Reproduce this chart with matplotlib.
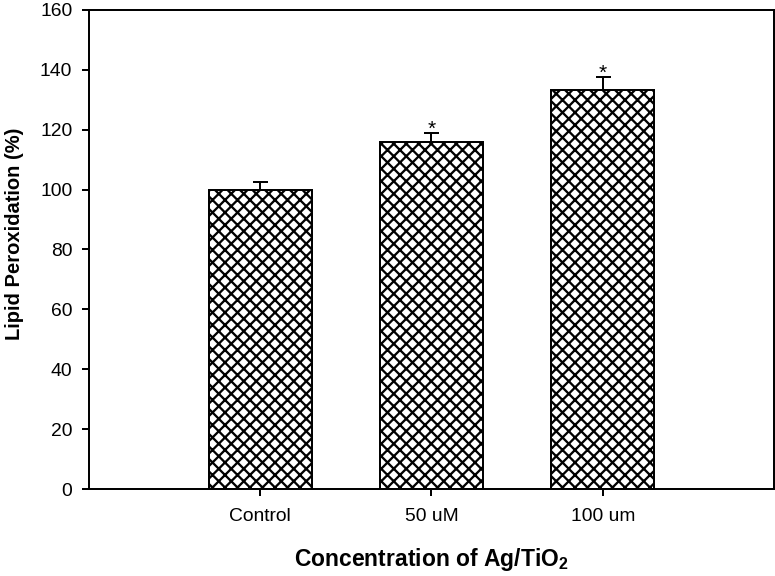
import matplotlib
matplotlib.use("Agg")
import matplotlib.pyplot as plt

# data
groups = ["Control", "50 uM", "100 um"]
lipid = [100.0, 116.0, 133.3]
err_up = [2.5, 3.0, 4.3]
signif = ["", "*", "*"]

DPI = 75
plt.rcParams["font.family"] = ["Liberation Sans", "DejaVu Sans"]
plt.rcParams["hatch.linewidth"] = 2.2

fig = plt.figure(figsize=(776 / DPI, 576 / DPI), dpi=DPI)
ax = fig.add_axes([89 / 776, 1 - 489 / 576, (774 - 89) / 776, (489 - 10) / 576])

x = list(range(len(groups)))
ax.bar(x, lipid, width=0.6, color="white", edgecolor="black",
       linewidth=1.9, hatch="xx", zorder=2)
ax.errorbar(x, lipid, yerr=[[0] * len(x), err_up], fmt="none",
            ecolor="black", elinewidth=1.9, capsize=7.2, capthick=1.9, zorder=3)

for xi, v, e, s in zip(x, lipid, err_up, signif):
    if s:
        ax.text(xi, v + e + 1.3, s, ha="center", va="center", fontsize=20)

ax.set_xlim(-1, 3)
ax.set_ylim(0, 160)
ax.set_yticks(range(0, 161, 20))
ax.set_xticks(x)
ax.set_xticklabels(groups)

for sp in ax.spines.values():
    sp.set_linewidth(1.9)

ax.tick_params(axis="y", direction="out", length=7, width=1.9, pad=9, labelsize=18.5)
ax.tick_params(axis="x", direction="out", length=6.5, width=1.9, pad=12, labelsize=18.5)

ax.set_xlabel("Concentration of Ag/TiO$_\\mathregular{2}$", fontsize=22,
              fontweight="bold", labelpad=20)
ax.set_ylabel("Lipid Peroxidation (%)", fontsize=19.3, fontweight="bold")
ax.yaxis.set_label_coords(-0.095, 0.532)

fig.savefig("out.png", dpi=DPI)
